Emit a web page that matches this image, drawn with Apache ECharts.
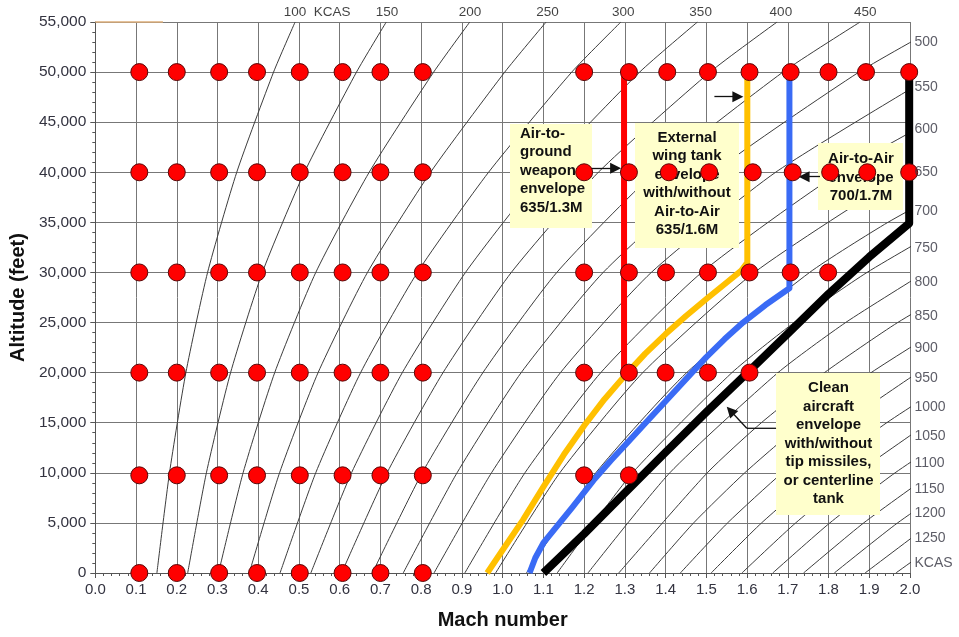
<!DOCTYPE html>
<html><head><meta charset="utf-8">
<script src="https://cdn.jsdelivr.net/npm/echarts@6/dist/echarts.min.js"></script>
<style>html,body{margin:0;padding:0;background:#fff}#c{width:959px;height:637px}</style>
</head><body><div id="c"></div>
<script>
const FONT = "'Liberation Sans', Arial, Helvetica, sans-serif";

// KCAS reference curves: [Mach, altitude (ft)]
const kcas100  = [[0.1512,0],[0.1821,10000],[0.2223,20000],[0.2756,30000],[0.3472,40000],[0.4376,50000],[0.4905,55000]];
const kcas150  = [[0.2268,0],[0.2727,10000],[0.3321,20000],[0.4101,30000],[0.5134,40000],[0.6412,50000],[0.7143,55000]];
const kcas200  = [[0.3024,0],[0.3628,10000],[0.4404,20000],[0.5412,30000],[0.6723,40000],[0.8306,50000],[0.9193,55000]];
const kcas250  = [[0.3780,0],[0.4523,10000],[0.5469,20000],[0.6681,30000],[0.8230,40000],[1.0051,50000],[1.1067,55000]];
const kcas300  = [[0.4535,0],[0.5411,10000],[0.6513,20000],[0.7906,30000],[0.9654,40000],[1.1696,50000],[1.2902,55000]];
const kcas350  = [[0.5291,0],[0.6290,10000],[0.7536,20000],[0.9087,30000],[1.1008,40000],[1.3363,50000],[1.4782,55000]];
const kcas400  = [[0.6047,0],[0.7162,10000],[0.8536,20000],[1.0212,30000],[1.2349,40000],[1.5090,50000],[1.6737,55000]];
const kcas450  = [[0.6803,0],[0.8025,10000],[0.9515,20000],[1.1329,30000],[1.3742,40000],[1.6880,50000],[1.8775,55000]];
const kcas500  = [[0.7559,0],[0.8880,10000],[1.0455,20000],[1.2467,30000],[1.5190,40000],[1.8748,50000],[2.0905,55000]];
const kcas550  = [[0.8315,0],[0.9726,10000],[1.1419,20000],[1.3648,30000],[1.6701,40000],[2.0705,50000]];
const kcas600  = [[0.9071,0],[1.0547,10000],[1.2409,20000],[1.4886,30000],[1.8289,40000],[2.2741,50000]];
const kcas650  = [[0.9827,0],[1.1403,10000],[1.3440,20000],[1.6179,30000],[1.9961,40000],[2.4916,50000]];
const kcas700  = [[1.0583,0],[1.2286,10000],[1.4517,20000],[1.7535,30000],[1.9457,35000],[2.1708,40000]];
const kcas750  = [[1.1338,0],[1.3189,10000],[1.5629,20000],[1.7156,25000],[1.8944,30000],[2.1052,35000]];
const kcas800  = [[1.2094,0],[1.4103,10000],[1.6759,20000],[1.8419,25000],[2.0366,30000]];
const kcas850  = [[1.2850,0],[1.5023,10000],[1.6351,15000],[1.7900,20000],[1.9697,25000],[2.1806,30000]];
const kcas900  = [[1.3606,0],[1.4688,5000],[1.5943,10000],[1.7375,15000],[1.9045,20000],[2.0984,25000]];
const kcas950  = [[1.4362,0],[1.5521,5000],[1.6864,10000],[1.8401,15000],[2.0188,20000]];
const kcas1000 = [[1.5118,0],[1.6356,5000],[1.7786,10000],[1.9429,15000],[2.1333,20000]];
const kcas1050 = [[1.5874,0],[1.7193,5000],[1.8710,10000],[2.0457,15000]];
const kcas1100 = [[1.6630,0],[1.8032,5000],[1.9634,10000],[2.1484,15000]];
const kcas1150 = [[1.7386,0],[1.8863,5000],[2.0557,10000]];
const kcas1200 = [[1.8141,0],[1.9695,5000],[2.1481,10000]];
const kcas1250 = [[1.8897,0],[2.0526,5000]];
const kcas1300 = [[1.9653,0],[2.1370,5000]];
const kcasCurves = [kcas100,kcas150,kcas200,kcas250,kcas300,kcas350,kcas400,kcas450,kcas500,kcas550,kcas600,kcas650,
  kcas700,kcas750,kcas800,kcas850,kcas900,kcas950,kcas1000,kcas1050,kcas1100,kcas1150,kcas1200,kcas1250,kcas1300];

// Test points (red dots)
const dotMachLeft = [0.108,0.2,0.304,0.397,0.502,0.607,0.7,0.804];
const dotAltLeft = [0,9750,20000,30000,40000,50000];
const dotMach50k = [1.2,1.31,1.404,1.504,1.606,1.707,1.8,1.892,1.998];
const dotMach40k = [1.2,1.31,1.408,1.507,1.614,1.712,1.804,1.895,1.998];
const dotMach30k = [1.2,1.31,1.401,1.504,1.606,1.707,1.799];
const dotMach20k = [1.2,1.31,1.40,1.504,1.606];
const dotMach10k = [1.2,1.31];

// Envelopes [Mach, altitude]
const redEnvelope = [[1.298,20000],[1.298,50000]];
const yellowEnvelope = [[0.962,0],[1.00,2300],[1.05,5300],[1.10,8600],[1.15,11800],[1.20,14700],[1.25,17350],[1.30,19700],
  [1.35,21900],[1.40,23850],[1.45,25650],[1.50,27350],[1.55,29000],[1.585,30150],[1.6006,31000],[1.6006,50000]];
const blueEnvelope = [[1.066,0],[1.08,1500],[1.10,3000],[1.13,4500],[1.17,6500],[1.223,9250],[1.265,11200],[1.305,12950],
  [1.35,14950],[1.40,17150],[1.45,19350],[1.50,21550],[1.545,23350],[1.59,25000],[1.645,26750],[1.704,28420],[1.704,50000]];
const blackEnvelope = [[1.100,0],[1.20,3900],[1.30,8000],[1.40,12050],[1.50,16050],[1.60,19950],[1.70,23900],[1.80,27850],
  [1.90,31550],[1.998,34900],[1.998,50000]];
const topTrace1 = [[0,55000],[0.166,55000]];

// KCAS labels
const topLabelMach = [0.5448,0.716,0.920,1.110,1.296,1.486,1.683,1.890];
const topLabelText = ['100  KCAS','150','200','250','300','350','400','450'];
const rightLabelAlt = [53035,48543,44291,40028,36135,32442,29048,25654,22460,19465,16570,13675,11010,8355,5959,3524,1028];
const rightLabelText = ['500','550','600','650','700','750','800','850','900','950','1000','1050','1100','1150','1200','1250','KCAS'];

// Annotation arrows [from, to] in [Mach, altitude]
const arrowAG = [[1.2147,40400],[1.2773,40400]];
const arrowWT = [[1.5198,47540],[1.5774,47540]];
const arrowAA = [[1.779,39560],[1.740,39560]];
const arrowCleanTail = [[1.6712,14444],[1.5993,14444]];
const arrowClean = [[1.5993,14444],[1.5593,16200]];

const dots = [];
dotAltLeft.forEach(a => dotMachLeft.forEach(m => dots.push([m, a])));
dotMach50k.forEach(m => dots.push([m, 50000]));
dotMach40k.forEach(m => dots.push([m, 40000]));
dotMach30k.forEach(m => dots.push([m, 30000]));
dotMach20k.forEach(m => dots.push([m, 20000]));
dotMach10k.forEach(m => dots.push([m, 9750]));

const series = [];
kcasCurves.forEach(c => series.push({
  type:'line', data:c, symbol:'none', smooth:0.2, silent:true, z:2,
  lineStyle:{color:'#3c3c3c', width:1}
}));
series.push({type:'line', data:topTrace1, symbol:'none', silent:true, z:2, clip:false,
  lineStyle:{color:'#dcae7a', width:1.5}});
function env(data, color, width){
  return {type:'line', data, symbol:'none', silent:true, z:5, clip:false,
    lineStyle:{color, width, join:'round', cap:'butt'}};
}
series.push(env(yellowEnvelope,'#FFC000',6));
series.push(env(blueEnvelope,'#3A6BF5',6));
series.push(env(blackEnvelope,'#000000',8));
series.push(env(redEnvelope,'#FF0000',6));
series.push({type:'line', data:arrowCleanTail, symbol:'none', silent:true, z:4, clip:false,
  lineStyle:{color:'#111', width:1.3}});
series.push({
  type:'line', data:[], silent:true, z:7,
  markLine:{
    silent:true, animation:false, symbol:['none','triangle'], symbolSize:11,
    label:{show:false},
    lineStyle:{color:'#111', width:1.3, type:'solid'},
    data:[arrowAG, arrowWT, arrowAA, arrowClean].map(a => [{coord:a[0]},{coord:a[1]}])
  }
});
series.push({
  type:'scatter', data:dots, symbol:'circle', symbolSize:17, z:8, clip:false, silent:true,
  itemStyle:{color:'#FF0000', borderColor:'#5a0808', borderWidth:1, opacity:1}
});
series.push({
  type:'scatter', data:topLabelMach.map(m => [m, 55000]), symbolSize:1, z:8, clip:false, silent:true,
  itemStyle:{color:'transparent'},
  label:{show:true, position:'top', distance:2, fontFamily:FONT, fontSize:13.5, color:'#111',
    formatter:p => topLabelText[p.dataIndex]}
});
series.push({
  type:'scatter', data:rightLabelAlt.map(a => [2.0, a]), symbolSize:1, z:8, clip:false, silent:true,
  itemStyle:{color:'transparent'},
  label:{show:true, position:'right', distance:4, fontFamily:FONT, fontSize:14, color:'#333340',
    formatter:p => rightLabelText[p.dataIndex]}
});

const boxFill = '#FFFFCC';
const txt = {fontFamily:FONT, fontSize:15, fontWeight:'bold', fill:'#111', lineHeight:18.5, verticalAlign:'top'};
const graphic = [
  {type:'rect', z:3, shape:{x:510, y:124, width:82, height:104}, style:{fill:boxFill}},
  {type:'text', z:4, x:520, y:124.5, style:Object.assign({}, txt, {align:'left', text:'Air-to-\nground\nweapon\nenvelope\n635/1.3M'})},
  {type:'rect', z:3, shape:{x:635, y:123, width:104, height:125}, style:{fill:boxFill}},
  {type:'text', z:4, x:687, y:128.5, style:Object.assign({}, txt, {align:'center', text:'External\nwing tank\nenvelope\nwith/without\nAir-to-Air\n635/1.6M'})},
  {type:'rect', z:3, shape:{x:818, y:143, width:85, height:67}, style:{fill:boxFill}},
  {type:'text', z:4, x:861, y:150, style:Object.assign({}, txt, {align:'center', text:'Air-to-Air\nenvelope\n700/1.7M'})},
  {type:'rect', z:3, shape:{x:776, y:373, width:104, height:142}, style:{fill:boxFill}},
  {type:'text', z:4, x:828.5, y:379, style:Object.assign({}, txt, {align:'center', text:'Clean\naircraft\nenvelope\nwith/without\ntip missiles,\nor centerline\ntank'})}
];

const chart = echarts.init(document.getElementById('c'), null, {renderer:'canvas'});
chart.setOption({
  animation:false,
  backgroundColor:'#ffffff',
  textStyle:{fontFamily:FONT},
  grid:{left:95, right:49, top:22, bottom:64, containLabel:false},
  xAxis:{
    type:'value', min:0, max:2.0, interval:0.1,
    name:'Mach number', nameLocation:'middle', nameGap:37,
    nameTextStyle:{fontFamily:FONT, fontSize:20, fontWeight:'bold', color:'#111'},
    axisLine:{show:true, lineStyle:{color:'#555', width:1}},
    axisTick:{show:true, length:5, lineStyle:{color:'#555'}},
    minorTick:{show:true, splitNumber:5, length:3, lineStyle:{color:'#555'}},
    axisLabel:{fontFamily:FONT, fontSize:15, color:'#333340', margin:9, formatter:v => v.toFixed(1)},
    splitLine:{show:true, lineStyle:{color:'#777', width:1}},
    minorSplitLine:{show:false}
  },
  yAxis:{
    type:'value', min:0, max:55000, interval:5000,
    name:'Altitude (feet)', nameLocation:'middle', nameGap:66, nameRotate:90,
    nameTextStyle:{fontFamily:FONT, fontSize:20, fontWeight:'bold', color:'#111'},
    axisLine:{show:true, lineStyle:{color:'#555', width:1}},
    axisTick:{show:true, length:5, lineStyle:{color:'#555'}},
    minorTick:{show:true, splitNumber:5, length:3, lineStyle:{color:'#555'}},
    axisLabel:{fontFamily:FONT, fontSize:15.5, color:'#333340', margin:9, formatter:v => v.toLocaleString('en-US')},
    splitLine:{show:true, lineStyle:{color:'#777', width:1}}
  },
  graphic:graphic,
  series:series
});
</script></body></html>
